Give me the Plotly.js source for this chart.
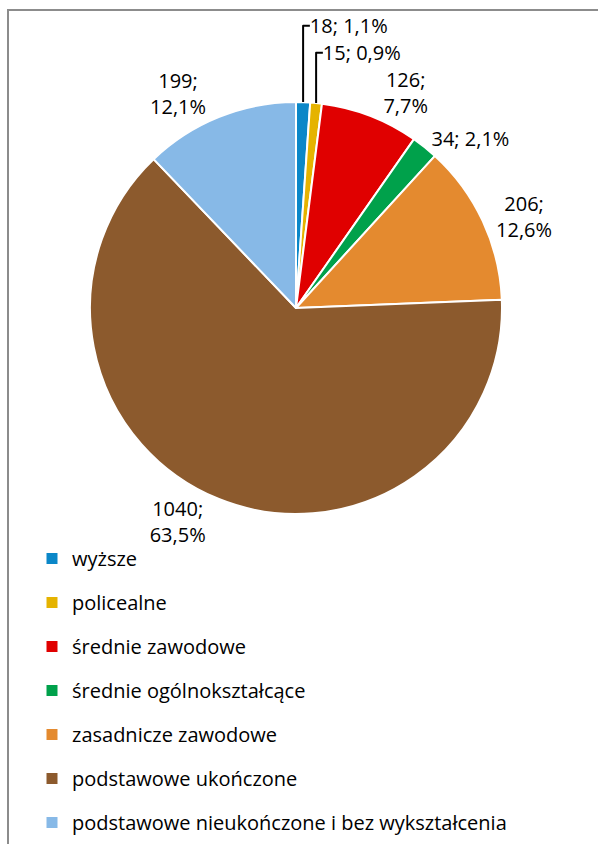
<!DOCTYPE html>
<html>
<head>
<meta charset="utf-8">
<script src="https://cdn.plot.ly/plotly-3.0.1.min.js"></script>
<style>
  html, body { margin: 0; padding: 0; background: #fff; }
  #frame { position: absolute; left: 0; top: 0; width: 598px; height: 844px; }
  #border { position: absolute; left: 7px; top: 9px; width: 600px; height: 850px;
            border-top: 2px solid #8c8c8c; border-left: 2px solid #8c8c8c; pointer-events: none; }
</style>
</head>
<body>
<div id="frame"></div>
<div id="border"></div>
<script>
const categories = [
  "wyższe",
  "policealne",
  "średnie zawodowe",
  "średnie ogólnokształcące",
  "zasadnicze zawodowe",
  "podstawowe ukończone",
  "podstawowe nieukończone i bez wykształcenia"
];
const values = [18, 15, 126, 34, 206, 1040, 199];
const colors = ["#0B87C8", "#E5B300", "#E00000", "#00A14B", "#E48A2F", "#8C5A2D", "#87B9E7"];
const labelTemplates = [
  "%{value}; %{percent:.1%}",
  "%{value}; %{percent:.1%}",
  "%{value};<br>%{percent:.1%}",
  "%{value}; %{percent:.1%}",
  "%{value};<br>%{percent:.1%}",
  "%{value};<br>%{percent:.1%}",
  "%{value};<br>%{percent:.1%}"
];

const font = { family: "Open Sans, Liberation Sans, sans-serif", size: 20, color: "#000" };

const pie = {
  type: "pie",
  labels: categories,
  values: values,
  sort: false,
  direction: "clockwise",
  rotation: 0,
  marker: { colors: colors, line: { color: "#fff", width: 2 } },
  textposition: "outside",
  texttemplate: labelTemplates,
  textfont: font,
  showlegend: false,
  hoverinfo: "none",
  domain: { x: [90 / 598, 502 / 598], y: [330 / 844, 742 / 844] }
};

const legendTraces = categories.map((c, i) => ({
  type: "scatter",
  mode: "markers",
  x: [null],
  y: [null],
  name: c,
  legendgroup: "g" + i,
  marker: { symbol: "square", size: 11, color: colors[i] },
  hoverinfo: "none",
  showlegend: true
}));

const layout = {
  width: 598,
  height: 844,
  margin: { l: 0, r: 0, t: 0, b: 0 },
  paper_bgcolor: "rgba(0,0,0,0)",
  plot_bgcolor: "rgba(0,0,0,0)",
  separators: ", ",
  font: font,
  xaxis: { visible: false, domain: [0, 0.01] },
  yaxis: { visible: false, domain: [0, 0.01] },
  showlegend: true,
  legend: {
    x: 32 / 598,
    xanchor: "left",
    y: 1 - 539 / 844,
    yanchor: "top",
    orientation: "v",
    traceorder: "grouped",
    tracegroupgap: 15,
    font: font,
    bgcolor: "rgba(0,0,0,0)",
    itemclick: false,
    itemdoubleclick: false
  }
};

Plotly.newPlot("frame", [pie].concat(legendTraces), layout, { staticPlot: true, displayModeBar: false });
</script>
</body>
</html>
